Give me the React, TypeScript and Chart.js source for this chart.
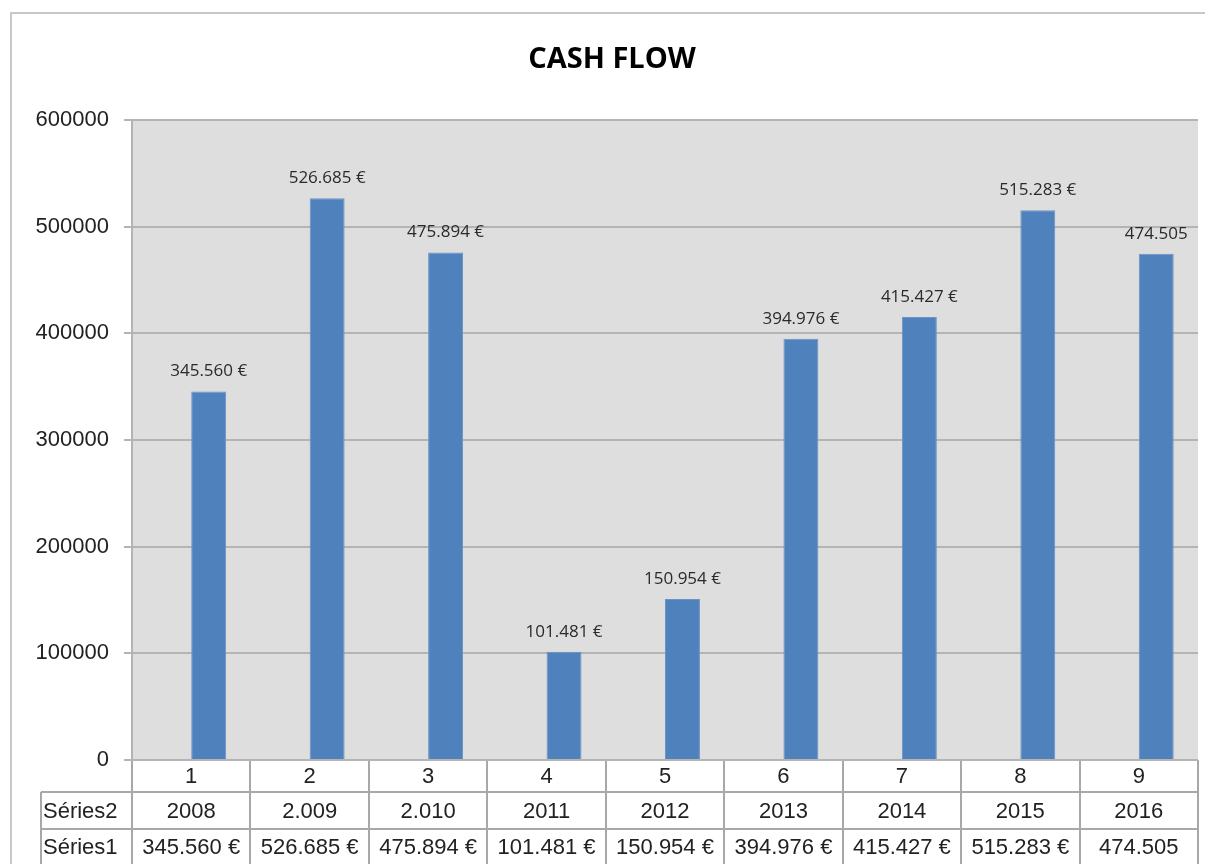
import React, { useEffect, useRef } from "react";
import { Chart, registerables } from "chart.js";

Chart.register(...registerables);

const categories = ["1", "2", "3", "4", "5", "6", "7", "8", "9"];
const series2Labels = ["2008", "2.009", "2.010", "2011", "2012", "2013", "2014", "2015", "2016"];
const series2Values = [2008, 2009, 2010, 2011, 2012, 2013, 2014, 2015, 2016];
const series1Values = [345560, 526685, 475894, 101481, 150954, 394976, 415427, 515283, 474505];
const series1Labels = [
  "345.560 €", "526.685 €", "475.894 €", "101.481 €", "150.954 €",
  "394.976 €", "415.427 €", "515.283 €", "474.505",
];
const rowHeaders = ["Séries2", "Séries1"];
const yTicks = [0, 100000, 200000, 300000, 400000, 500000, 600000];
const chartTitle = "CASH FLOW";

const TEXT = "#222222";
const GRID = "#b4b4b4";
const TABLE_LINE = "#a8a8a8";

const decorPlugin = {
  id: "decor",
  beforeDraw(chart: any) {
    const { ctx, chartArea } = chart;
    ctx.save();
    ctx.fillStyle = "#ffffff";
    ctx.fillRect(0, 0, chart.width, chart.height);
    // outer frame
    ctx.strokeStyle = "#c8c8c8";
    ctx.lineWidth = 2;
    ctx.beginPath();
    ctx.moveTo(11, chart.height + 5);
    ctx.lineTo(11, 13);
    ctx.lineTo(chart.width + 5, 13);
    ctx.stroke();
    // plot background
    ctx.fillStyle = "#dedede";
    ctx.fillRect(chartArea.left, chartArea.top, chartArea.right - chartArea.left, chartArea.bottom - chartArea.top);
    ctx.restore();
  },
  afterDraw(chart: any) {
    const { ctx, chartArea } = chart;
    const xs = chart.scales.x;
    ctx.save();
    // title
    ctx.fillStyle = "#000";
    ctx.font = "bold 29px 'Open Sans'";
    ctx.textAlign = "center";
    ctx.textBaseline = "middle";
    ctx.fillText(chartTitle, 612, 60);

    // data labels
    const meta = chart.getDatasetMeta(1);
    ctx.font = "17px 'Open Sans'";
    ctx.fillStyle = "#2a2a2a";
    meta.data.forEach((bar: any, i: number) => {
      ctx.fillText(series1Labels[i], bar.x, bar.y - 20);
    });

    // table
    const n = categories.length;
    const catW = (chartArea.right - chartArea.left) / n;
    const headLeft = 41;
    const r0 = chartArea.bottom;
    const r1 = r0 + 32;
    const r2 = r0 + 69;
    const r3 = chart.height + 4;
    ctx.strokeStyle = TABLE_LINE;
    ctx.lineWidth = 2;
    ctx.beginPath();
    ctx.moveTo(headLeft, r1); ctx.lineTo(chartArea.right, r1);
    ctx.moveTo(headLeft, r2); ctx.lineTo(chartArea.right, r2);
    ctx.moveTo(headLeft, r1); ctx.lineTo(headLeft, r3);
    for (let i = 0; i <= n; i++) {
      const x = i === 0 ? chartArea.left : xs.getPixelForValue(i - 1) + catW / 2;
      ctx.moveTo(Math.round(x), r0); ctx.lineTo(Math.round(x), r3);
    }
    ctx.stroke();
    ctx.strokeStyle = GRID;
    ctx.beginPath();
    ctx.moveTo(chartArea.left - 8, r0); ctx.lineTo(chartArea.right, r0);
    ctx.stroke();

    ctx.fillStyle = TEXT;
    ctx.font = "22px 'Liberation Sans'";
    ctx.textAlign = "center";
    ctx.textBaseline = "middle";
    categories.forEach((c, i) => {
      const x = xs.getPixelForValue(i);
      ctx.fillText(c, x, (r0 + r1) / 2 + 1);
      ctx.fillText(series2Labels[i], x, (r1 + r2) / 2 + 1);
      ctx.fillText(series1Labels[i], x, r2 + 19);
    });
    ctx.textAlign = "left";
    ctx.fillText(rowHeaders[0], headLeft + 2, (r1 + r2) / 2 + 1);
    ctx.fillText(rowHeaders[1], headLeft + 2, r2 + 19);
    ctx.restore();
  },
};

export default function App() {
  const ref = useRef<HTMLCanvasElement | null>(null);
  useEffect(() => {
    if (!ref.current) return;
    const chart = new Chart(ref.current, {
      type: "bar",
      data: {
        labels: categories,
        datasets: [
          {
            label: rowHeaders[0],
            data: series2Values,
            backgroundColor: "rgba(0,0,0,0)",
            categoryPercentage: 0.59,
            barPercentage: 1,
          },
          {
            label: rowHeaders[1],
            data: series1Values,
            backgroundColor: "#4f81bd",
            borderColor: "#6a93c5",
            borderWidth: 1,
            categoryPercentage: 0.59,
            barPercentage: 1,
          },
        ],
      },
      options: {
        responsive: false,
        animation: false,
        devicePixelRatio: 1,
        layout: { padding: { left: 0, right: 7, top: 120, bottom: 0 } },
        plugins: {
          legend: { display: false },
          title: { display: false },
          tooltip: { enabled: false },
        },
        scales: {
          x: {
            grid: { display: false },
            border: { display: false },
            ticks: { display: false },
            afterFit(scale: any) {
              scale.height = 104;
            },
          },
          y: {
            min: 0,
            max: 600000,
            afterBuildTicks(scale: any) {
              scale.ticks = yTicks.map((v) => ({ value: v }));
            },
            afterFit(scale: any) {
              scale.width = 132;
            },
            grid: {
              color: GRID,
              lineWidth: 2,
              tickLength: 8,
              drawTicks: true,
            },
            border: { display: true, color: GRID, width: 2 },
            ticks: {
              padding: 15,
              color: TEXT,
              font: { family: "'Liberation Sans'", size: 22 },
              callback: (v: any) => String(v),
            },
          },
        },
      },
      plugins: [decorPlugin],
    });
    return () => chart.destroy();
  }, []);
  return (
    <div style={{ position: "absolute", left: 0, top: 0, width: 1205, height: 864 }}>
      <canvas ref={ref} width={1205} height={864} style={{ display: "block" }} />
    </div>
  );
}
